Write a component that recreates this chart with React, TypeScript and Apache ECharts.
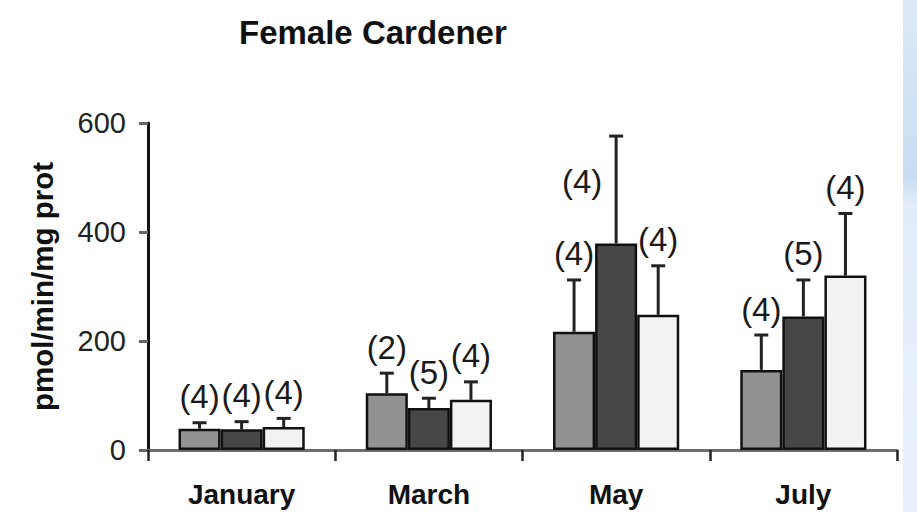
import React, { useEffect, useRef } from "react";
import * as echarts from "echarts";

const months = ["January", "March", "May", "July"];
const seriesNames = ["Group 1", "Group 2", "Group 3"];
const means1 = [39, 104, 217, 147];
const means2 = [38, 77, 379, 245];
const means3 = [42, 92, 248, 320];
const err1 = [11, 37, 95, 64];
const err2 = [14, 18, 197, 67];
const err3 = [16, 33, 90, 114];
const counts1 = [4, 2, 4, 4];
const counts2 = [4, 5, 4, 5];
const counts3 = [4, 4, 4, 4];
const yTicks = [0, 200, 400, 600];

const FONT = '"Liberation Sans", Arial, Helvetica, sans-serif';
const CAT_GAP = 0.326;

export default function App() {
  const ref = useRef<HTMLDivElement>(null);
  useEffect(() => {
    if (!ref.current) return;
    const chart = echarts.init(ref.current, undefined, { renderer: "svg" });
    const means = [means1, means2, means3];
    const errs = [err1, err2, err3];
    const counts = [counts1, counts2, counts3];
    const errData: number[][] = [];
    for (let s = 0; s < 3; s++) {
      for (let c = 0; c < months.length; c++) {
        errData.push([c, s, means[s][c], means[s][c] + errs[s][c], counts[s][c]]);
      }
    }
    const colors = ["#929292", "#474747", "#f2f2f2"];
    const barSeries = means.map((m, i) => ({
      name: seriesNames[i],
      type: "bar",
      data: m,
      barGap: "0%",
      barCategoryGap: CAT_GAP * 100 + "%",
      itemStyle: { color: colors[i], borderColor: "#111", borderWidth: 2.5 },
      z: 2,
    }));
    const option: any = {
      animation: false,
      backgroundColor: "#ffffff",
      title: {
        text: "Female Cardener",
        left: 234,
        top: 11,
        textStyle: { fontSize: 33, fontWeight: "bold", color: "#111", fontFamily: FONT },
      },
      grid: { left: 148, right: 20, top: 123, bottom: 62, containLabel: false },
      xAxis: {
        type: "category",
        data: months,
        axisLine: { lineStyle: { color: "#6e6e6e", width: 3 } },
        axisTick: { show: true, length: 11, lineStyle: { color: "#222", width: 2.5 } },
        axisLabel: { fontSize: 28, fontWeight: "bold", color: "#111", margin: 30, fontFamily: FONT },
      },
      yAxis: {
        type: "value",
        min: yTicks[0],
        max: yTicks[yTicks.length - 1],
        interval: yTicks[1] - yTicks[0],
        name: "pmol/min/mg prot",
        nameLocation: "middle",
        nameRotate: 90,
        nameGap: 91,
        nameTextStyle: { fontSize: 29.5, fontWeight: "bold", color: "#111", fontFamily: FONT },
        axisLine: { show: true, lineStyle: { color: "#111", width: 3 } },
        axisTick: { show: true, length: 9, lineStyle: { color: "#666", width: 3 } },
        splitLine: { show: false },
        axisLabel: { fontSize: 29, color: "#222", margin: 22, fontFamily: FONT },
      },
      graphic: [
        {
          type: "rect",
          right: 0,
          top: 0,
          shape: { width: 14, height: 512 },
          style: {
            fill: new echarts.graphic.LinearGradient(0, 0, 0, 1, [
              { offset: 0, color: "#dde9f7" },
              { offset: 0.2, color: "#cfe1f4" },
              { offset: 0.35, color: "#c9ddf3" },
              { offset: 0.4, color: "#e3edf9" },
              { offset: 1, color: "#e8f1fb" },
            ]),
          },
          z: 100,
        },
      ],
      series: [
        ...barSeries,
        {
          type: "custom",
          name: "errors",
          data: errData,
          encode: { x: 0, y: [2, 3] },
          z: 5,
          renderItem: (params: any, api: any) => {
            const c = api.value(0);
            const s = api.value(1);
            const mean = api.value(2);
            const top = api.value(3);
            const n = api.value(4);
            const band = api.size([1, 0])[0];
            const barW = (band * (1 - CAT_GAP)) / 3;
            const base = api.coord([c, mean]);
            const x = base[0] + (s - 1) * barW;
            const yMean = base[1];
            const yTop = api.coord([c, top])[1];
            const yMax = api.coord([c, yTicks[yTicks.length - 1]])[1];
            const capHalf = 7;
            let lx = x;
            let ly = yTop - 26;
            if (ly - 16 < yMax) {
              lx = x - 34;
              ly = yTop + 0.42 * (yMean - yTop);
            }
            return {
              type: "group",
              children: [
                {
                  type: "line",
                  shape: { x1: x, y1: yMean, x2: x, y2: yTop },
                  style: { stroke: "#222", lineWidth: 3 },
                },
                {
                  type: "line",
                  shape: { x1: x - capHalf, y1: yTop, x2: x + capHalf, y2: yTop },
                  style: { stroke: "#222", lineWidth: 3 },
                },
                {
                  type: "text",
                  x: lx,
                  y: ly,
                  style: {
                    text: "(" + n + ")",
                    align: "center",
                    verticalAlign: "middle",
                    fontSize: 33,
                    fontFamily: FONT,
                    fill: "#1a1a1a",
                  },
                },
              ],
            };
          },
        },
      ],
    };
    chart.setOption(option);
    return () => chart.dispose();
  }, []);
  return (
    <div
      ref={ref}
      style={{ position: "fixed", left: 0, top: 0, width: 917, height: 512, background: "#fff" }}
    />
  );
}
